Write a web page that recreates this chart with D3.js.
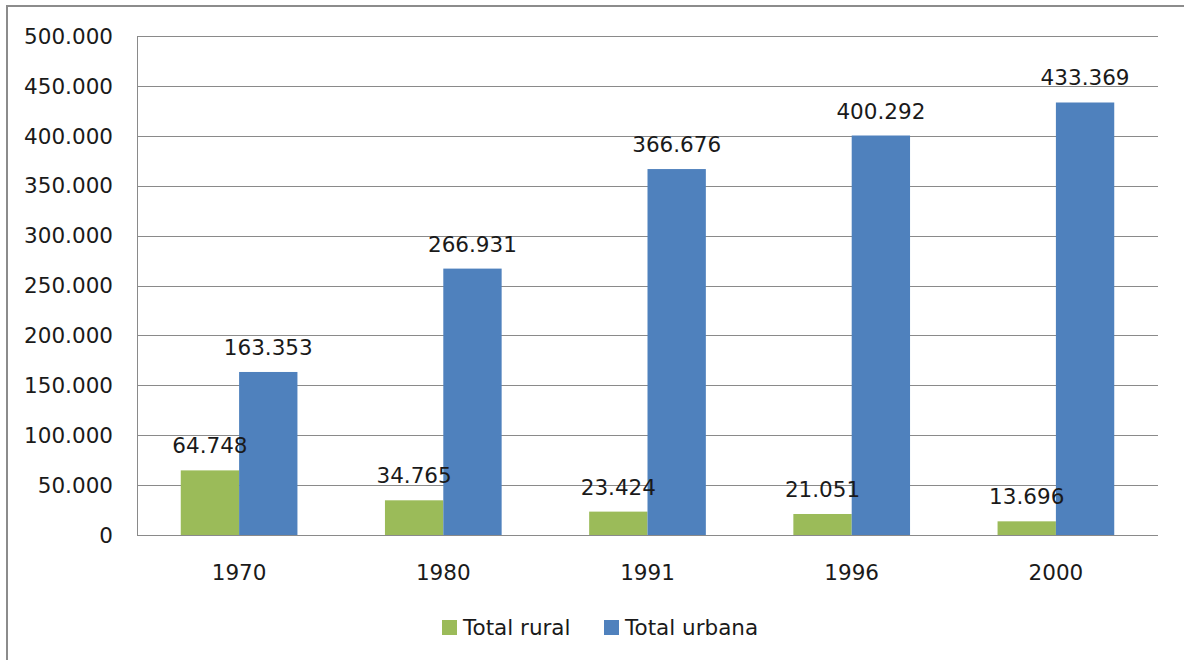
<!DOCTYPE html>
<html>
<head>
<meta charset="utf-8">
<script src="https://cdn.jsdelivr.net/npm/d3@7"></script>
<style>
  body { margin: 0; background: #fff; }
  text { font-family: "DejaVu Sans", sans-serif; fill: #1a1a1a; }
</style>
</head>
<body>
<div id="chart"></div>
<script>
const YEARS = ["1970", "1980", "1991", "1996", "2000"];
const RURAL = [64748, 34765, 23424, 21051, 13696];
const URBANA = [163353, 266931, 366676, 400292, 433369];
const SERIES = ["Total rural", "Total urbana"];
const Y_TICKS = [0, 50000, 100000, 150000, 200000, 250000, 300000, 350000, 400000, 450000, 500000];

const COLORS = { "Total rural": "#9bbb59", "Total urbana": "#4f81bd" };
const W = 1184, H = 660;
const PLOT = { left: 137, right: 1158, top: 36, bottom: 535 };
const FONT = 21.5;

// pt-br style thousands: 64.748
const fmt = v => v === 0 ? "0" : d3.format(",")(v).replace(/,/g, ".");

const svg = d3.select("#chart").append("svg")
  .attr("width", W).attr("height", H);

// chart frame (only top/left visible in the crop)
svg.append("path")
  .attr("d", `M7,${H} V6 H${W}`)
  .attr("fill", "none").attr("stroke", "#8c8c8c").attr("stroke-width", 2);

const x0 = d3.scaleBand().domain(YEARS).range([PLOT.left, PLOT.right]).paddingInner(0).paddingOuter(0);
const bandW = x0.bandwidth();
const barW = bandW / 3.5; // gap width 150%
const x1 = d3.scaleBand().domain(SERIES).range([bandW / 2 - barW, bandW / 2 + barW]);
const y = d3.scaleLinear().domain([0, 500000]).range([PLOT.bottom, PLOT.top]);

// gridlines
svg.append("g").selectAll("line").data(Y_TICKS.filter(d => d > 0)).join("line")
  .attr("x1", PLOT.left).attr("x2", PLOT.right)
  .attr("y1", d => Math.round(y(d)) + 0.5).attr("y2", d => Math.round(y(d)) + 0.5)
  .attr("stroke", "#8a8a8a").attr("stroke-width", 1);

// y labels
svg.append("g").selectAll("text").data(Y_TICKS).join("text")
  .attr("x", PLOT.left - 24).attr("y", d => y(d))
  .attr("dy", "0.36em").attr("text-anchor", "end")
  .style("font-size", FONT + "px").text(fmt);

const rows = YEARS.map((yr, i) => ({ year: yr, values: [
  { key: SERIES[0], v: RURAL[i] }, { key: SERIES[1], v: URBANA[i] }] }));

const groups = svg.append("g").selectAll("g").data(rows).join("g")
  .attr("transform", d => `translate(${x0(d.year)},0)`);

groups.selectAll("rect").data(d => d.values).join("rect")
  .attr("x", d => x1(d.key)).attr("width", x1.bandwidth())
  .attr("y", d => y(d.v)).attr("height", d => y(0) - y(d.v))
  .attr("fill", d => COLORS[d.key]);

groups.selectAll("text.val").data(d => d.values).join("text")
  .attr("class", "val")
  .attr("x", d => x1(d.key) + x1.bandwidth() / 2)
  .attr("y", d => y(d.v) - 17)
  .attr("text-anchor", "middle")
  .style("font-size", FONT + "px").text(d => fmt(d.v));

// axes lines
svg.append("line").attr("x1", PLOT.left + 0.5).attr("x2", PLOT.left + 0.5)
  .attr("y1", PLOT.top).attr("y2", PLOT.bottom).attr("stroke", "#8a8a8a");
svg.append("line").attr("x1", PLOT.left).attr("x2", PLOT.right)
  .attr("y1", PLOT.bottom + 0.5).attr("y2", PLOT.bottom + 0.5).attr("stroke", "#8a8a8a");

// x labels
svg.append("g").selectAll("text").data(YEARS).join("text")
  .attr("x", d => x0(d) + bandW / 2).attr("y", 580)
  .attr("text-anchor", "middle").style("font-size", FONT + "px").text(d => d);

// legend
const legend = svg.append("g");
const legX = [442, 604];
SERIES.forEach((s, i) => {
  legend.append("rect").attr("x", legX[i]).attr("y", 620).attr("width", 15).attr("height", 15)
    .attr("fill", COLORS[s]);
  legend.append("text").attr("x", legX[i] + 21).attr("y", 635)
    .style("font-size", FONT + "px").text(s);
});
</script>
</body>
</html>
